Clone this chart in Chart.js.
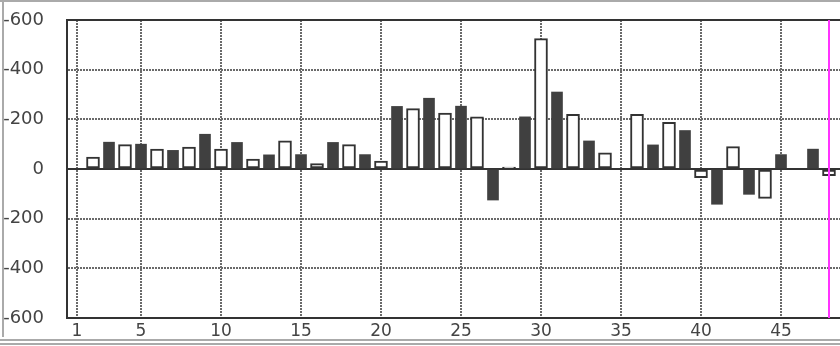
<!DOCTYPE html>
<html>
<head>
<meta charset="utf-8">
<script src="https://cdn.jsdelivr.net/npm/chart.js@4"></script>
<style>
  html,body{margin:0;padding:0;background:#fff;overflow:hidden;}
  canvas{display:block;}
</style>
</head>
<body>
<canvas id="histChart" width="840" height="346"></canvas>
<script>
// bar values (white = even periods, dark = odd periods)
const whiteX = [2,4,6,8,10,12,14,16,18,20,22,24,26,28,30,32,34,36,38,40,42,44,48];
const whiteValues = [48,98,80,88,80,40,113,22,98,32,243,225,210,8,525,220,65,220,188,-35,90,-118,-27];
const darkX = [3,5,7,9,11,13,15,17,19,21,23,25,27,29,31,33,37,39,41,43,45,47];
const darkValues = [108,100,75,140,107,57,58,107,58,252,285,253,-125,210,310,113,97,155,-142,-102,58,80];
const xTicks = [1,5,10,15,20,25,30,35,40,45];
const yTicks = [-600,-400,-200,0,200,400,600];
const markerX = 48; // magenta cursor

const FONT = '"DejaVu Sans", sans-serif';

// window frame, zero line, top border, cursor and the little tick dashes
const framePlugin = {
  id: 'frame',
  beforeDraw(chart){
    const ctx = chart.ctx;
    ctx.save();
    ctx.fillStyle = '#fff';
    ctx.fillRect(0,0,chart.width,chart.height);
    ctx.fillStyle = '#aaa';
    ctx.fillRect(0,0,chart.width,2);
    ctx.fillRect(2,0,2,337);
    ctx.fillRect(0,339,chart.width,2);
    ctx.fillRect(0,343,chart.width,2);
    ctx.restore();
  },
  beforeDatasetsDraw(chart){
    const ctx = chart.ctx, a = chart.chartArea, y0 = chart.scales.y.getPixelForValue(0);
    ctx.save();
    ctx.strokeStyle = '#333';
    ctx.lineWidth = 2;
    ctx.beginPath();
    ctx.moveTo(a.left, y0); ctx.lineTo(a.right, y0);
    ctx.moveTo(a.left, a.top); ctx.lineTo(a.right, a.top);
    ctx.stroke();
    ctx.restore();
  },
  afterDatasetsDraw(chart){
    const ctx = chart.ctx, a = chart.chartArea;
    const mx = chart.scales.x.getPixelForValue(markerX);
    ctx.save();
    ctx.strokeStyle = '#ff33ff';
    ctx.lineWidth = 2;
    ctx.beginPath();
    ctx.moveTo(mx, a.top); ctx.lineTo(mx, a.bottom);
    ctx.stroke();
    ctx.restore();
  },
  afterDraw(chart){
    const ctx = chart.ctx, ys = chart.scales.y;
    const right = chart.chartArea.left - ys.options.ticks.padding;
    ctx.save();
    ctx.font = '18px ' + FONT;
    ctx.fillStyle = '#444';
    ctx.textAlign = 'right';
    ctx.textBaseline = 'middle';
    ys.ticks.forEach(t=>{
      if(t.value > 0){
        const w = ctx.measureText(String(t.value)).width;
        ctx.fillText('-', right - w, ys.getPixelForValue(t.value));
      }
    });
    ctx.restore();
  }
};

const toPoints = (xs, vs) => xs.map((x,i)=>({x:x, y:vs[i]}));

new Chart(document.getElementById('histChart').getContext('2d'), {
  type: 'bar',
  data: {
    datasets: [
      {
        label: 'white',
        data: toPoints(whiteX, whiteValues),
        backgroundColor: '#fff',
        borderColor: '#333',
        borderWidth: 2,
        borderSkipped: false,
        barThickness: 13,
        grouped: false
      },
      {
        label: 'dark',
        data: toPoints(darkX, darkValues),
        backgroundColor: '#404040',
        borderWidth: 0,
        barThickness: 11,
        grouped: false
      }
    ]
  },
  options: {
    responsive: false,
    animation: false,
    layout: { padding: { top: 20, right: 0, bottom: 0, left: 0 } },
    plugins: { legend: { display: false }, tooltip: { enabled: false } },
    scales: {
      x: {
        type: 'linear',
        min: 0.375,
        max: 48.6875,
        offset: false,
        afterBuildTicks: s => { s.ticks = xTicks.map(v=>({value:v})); },
        afterFit: s => { s.height = 28; s.paddingLeft = 0; s.paddingRight = 0; },
        ticks: { color:'#444', font:{ family: FONT, size: 17 }, padding: 3, autoSkip: false, maxRotation: 0 },
        grid: { color:'#6a6a6a', lineWidth: 2, drawTicks: false, offset: false },
        border: { display: true, color:'#333', width: 2, dash: [2,1] }
      },
      y: {
        min: -600,
        max: 600,
        afterBuildTicks: s => { s.ticks = yTicks.map(v=>({value:v})); },
        afterFit: s => { s.width = 67; s.paddingTop = 0; s.paddingBottom = 0; },
        ticks: { color:'#444', font:{ family: FONT, size: 18 }, padding: 23 },
        grid: { color:'#6a6a6a', lineWidth: 2, drawTicks: false },
        border: { display: true, color:'#333', width: 2, dash: [2,1] }
      }
    }
  },
  plugins: [framePlugin]
});
</script>
</body>
</html>
